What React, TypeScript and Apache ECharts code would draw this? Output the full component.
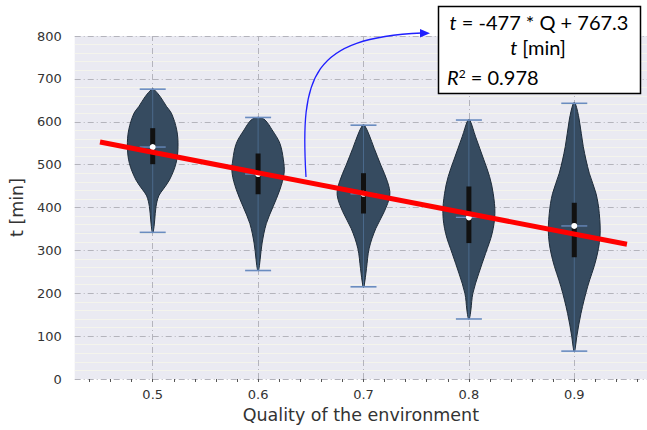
import React, { useEffect, useRef } from "react";
import * as echarts from "echarts";

// ---- data ----
const quality = [0.5, 0.6, 0.7, 0.8, 0.9];
const tMin = [342, 253, 215, 140, 65];
const tMax = [676, 610, 592, 604, 643];
const tQ1 = [501, 431, 386, 317, 284];
const tQ3 = [585, 526, 480, 449, 411];
const tMedian = [541, 478, 432, 377, 357];

// violin outline: t levels (top -> bottom) and relative density at each level
const profileT = [
  [676, 658, 635, 620, 581, 542, 503, 464, 441, 427, 402, 371, 342],
  [610, 604, 581, 550, 511, 480, 441, 402, 363, 317, 278, 253],
  [592, 569, 538, 499, 460, 429, 390, 351, 305, 258, 215],
  [604, 565, 511, 472, 433, 386, 340, 293, 247, 200, 161, 140],
  [643, 604, 542, 480, 433, 386, 332, 278, 215, 153, 99, 65],
];
const profileD = [
  [1, 7.7, 14, 18.7, 24, 25.3, 23.3, 16.7, 10, 6, 3.3, 2, 0.5],
  [1, 7, 14, 21.7, 25.3, 26, 21.7, 15, 8.3, 4, 2, 0.5],
  [1, 5.7, 10.7, 17.3, 24, 26.3, 20.7, 12.3, 5.7, 3, 0.5],
  [1, 6.7, 15, 20.7, 24.3, 26, 23.3, 16.7, 10, 4, 2, 0.5],
  [1, 5, 9, 15, 21.7, 25, 25.7, 21.7, 13.3, 6.7, 2.5, 0.5],
];

// regression line end points
const fitQ = [0.45, 0.95];
const fitT = [552.6, 314.2];

const xTickLabels = [0.5, 0.6, 0.7, 0.8, 0.9];
const xMinorTicks = [0.44, 0.46, 0.48, 0.5, 0.52, 0.54, 0.56, 0.58, 0.6, 0.62, 0.64, 0.66, 0.68, 0.7, 0.72, 0.74, 0.76, 0.78, 0.8, 0.82, 0.84, 0.86, 0.88, 0.9, 0.92, 0.94, 0.96];

const equationText = "{i|t} = -477 * Q + 767.3";
const unitText = "{i|t} [min]";
const r2Text = "{i|R}{s|2} = 0.978";

const DENSITY_PX = 1.0;
const CAP_PX = 13;

export default function App() {
  const ref = useRef<HTMLDivElement>(null);
  useEffect(() => {
    if (!ref.current) return;
    const chart = echarts.init(ref.current, null, { renderer: "svg" });

    const renderViolin = (params: any, api: any) => {
      const i = params.dataIndex;
      const q = quality[i];
      const ts = profileT[i];
      const ds = profileD[i];
      const right: number[][] = [];
      const left: number[][] = [];
      for (let k = 0; k < ts.length; k++) {
        const p = api.coord([q, ts[k]]);
        right.push([p[0] + ds[k] * DENSITY_PX, p[1]]);
        left.push([p[0] - ds[k] * DENSITY_PX, p[1]]);
      }
      const pts = right.concat(left.reverse());
      const top = api.coord([q, tMax[i]]);
      const bot = api.coord([q, tMin[i]]);
      const q1 = api.coord([q, tQ1[i]]);
      const q3 = api.coord([q, tQ3[i]]);
      const med = api.coord([q, tMedian[i]]);
      const capColor = "#6a8cc0";
      return {
        type: "group",
        children: [
          {
            type: "polygon",
            shape: { points: pts, smooth: 0.35 },
            style: { fill: "#364b60", stroke: "#1e2c3a", lineWidth: 1 },
          },
          {
            type: "line",
            shape: { x1: top[0], y1: top[1], x2: bot[0], y2: bot[1] },
            style: { stroke: "#4b6a8c", lineWidth: 1 },
          },
          {
            type: "line",
            shape: { x1: top[0] - CAP_PX, y1: top[1], x2: top[0] + CAP_PX, y2: top[1] },
            style: { stroke: capColor, lineWidth: 1.6 },
          },
          {
            type: "line",
            shape: { x1: bot[0] - CAP_PX, y1: bot[1], x2: bot[0] + CAP_PX, y2: bot[1] },
            style: { stroke: capColor, lineWidth: 1.6 },
          },
          {
            type: "line",
            shape: { x1: med[0] - CAP_PX, y1: med[1], x2: med[0] + CAP_PX, y2: med[1] },
            style: { stroke: capColor, lineWidth: 1.3 },
          },
          {
            type: "rect",
            shape: { x: q3[0] - 2.5, y: q3[1], width: 5, height: q1[1] - q3[1] },
            style: { fill: "#111111" },
          },
          {
            type: "circle",
            shape: { cx: med[0], cy: med[1], r: 3 },
            style: { fill: "#ffffff" },
          },
        ],
      };
    };

    const font = "DejaVu Sans";
    chart.setOption({
      animation: false,
      backgroundColor: "#ffffff",
      grid: {
        left: 67.7,
        right: 0,
        top: 36,
        bottom: 51,
        show: true,
        backgroundColor: "#eaeaf2",
        borderWidth: 0,
      },
      xAxis: {
        type: "value",
        min: 0.426,
        max: 0.969,
        name: "Quality of the environment",
        nameLocation: "middle",
        nameGap: 24,
        nameTextStyle: { fontFamily: font, fontSize: 17.5, color: "#333333" },
        axisLine: { show: false },
        axisTick: {
          show: true,
          inside: false,
          length: 3,
          customValues: xMinorTicks,
          lineStyle: { color: "#555555", width: 1 },
        },
        axisLabel: {
          customValues: xTickLabels,
          formatter: (v: number) => v.toFixed(1),
          fontFamily: font,
          fontSize: 13,
          color: "#333333",
          margin: 9,
        },
        splitLine: { show: false },
      },
      yAxis: {
        type: "value",
        min: 0,
        max: 800,
        interval: 100,
        name: "t [min]",
        nameLocation: "middle",
        nameGap: 34,
        nameTextStyle: { fontFamily: font, fontSize: 17.5, color: "#333333" },
        axisLine: { show: false },
        axisTick: { show: false },
        axisLabel: { fontFamily: font, fontSize: 13, color: "#333333", margin: 13 },
        splitLine: { show: true, lineStyle: { color: "#b4b4bc", type: [6, 3, 1, 3], width: 1 } },
        minorTick: { show: false, splitNumber: 5 },
        minorSplitLine: { show: true, lineStyle: { color: "#f4f4ec", width: 1 } },
      },
      series: [
        {
          type: "line",
          data: [],
          z: 1,
          silent: true,
          markLine: {
            z: 1,
            silent: true,
            symbol: "none",
            label: { show: false },
            lineStyle: { color: "#b4b4bc", type: [6, 3, 1, 3], width: 1 },
            data: xTickLabels.map((q) => ({ xAxis: q })),
          },
        },
        {
          type: "custom",
          z: 3,
          renderItem: renderViolin,
          data: quality.map((q, i) => [q, tMedian[i]]),
          encode: { x: 0, y: 1 },
        },
        {
          type: "line",
          z: 10,
          symbol: "none",
          data: fitQ.map((q, i) => [q, fitT[i]]),
          lineStyle: { color: "#ff0000", width: 5 },
        },
      ],
      graphic: [
        {
          type: "bezierCurve",
          z: 20,
          shape: { x1: 306, y1: 177, cpx1: 300, cpy1: 75, cpx2: 312, cpy2: 38, x2: 422, y2: 33 },
          style: { stroke: "#1f1fff", lineWidth: 1.3, fill: null },
        },
        {
          type: "polygon",
          z: 20,
          shape: { points: [[430, 33.3], [420, 29], [420, 37.6]] },
          style: { fill: "#1f1fff" },
        },
        {
          type: "rect",
          z: 20,
          shape: { x: 438.5, y: 6.5, width: 202, height: 87 },
          style: { fill: "#ffffff", stroke: "#000000", lineWidth: 1.5 },
        },
        {
          type: "text",
          z: 21,
          x: 539,
          y: 22,
          style: {
            text: equationText,
            fontFamily: "Lato",
            fontSize: 20,
            fill: "#000000",
            align: "center",
            verticalAlign: "middle",
            rich: { i: { fontStyle: "italic", fontFamily: "Lato", fontSize: 20 } },
          },
        },
        {
          type: "text",
          z: 21,
          x: 538,
          y: 47,
          style: {
            text: unitText,
            fontFamily: "Lato",
            fontSize: 20,
            fill: "#000000",
            align: "center",
            verticalAlign: "middle",
            rich: { i: { fontStyle: "italic", fontFamily: "Lato", fontSize: 20 } },
          },
        },
        {
          type: "text",
          z: 21,
          x: 447,
          y: 77,
          style: {
            text: r2Text,
            fontFamily: "Lato",
            fontSize: 20,
            fill: "#000000",
            align: "left",
            verticalAlign: "middle",
            rich: {
              i: { fontStyle: "italic", fontFamily: "Lato", fontSize: 20 },
              s: { fontFamily: "Lato", fontSize: 12, verticalAlign: "top" },
            },
          },
        },
      ],
    });
    return () => chart.dispose();
  }, []);
  return (
    <div
      ref={ref}
      style={{ position: "fixed", left: 0, top: 0, width: 647, height: 430 }}
    />
  );
}
